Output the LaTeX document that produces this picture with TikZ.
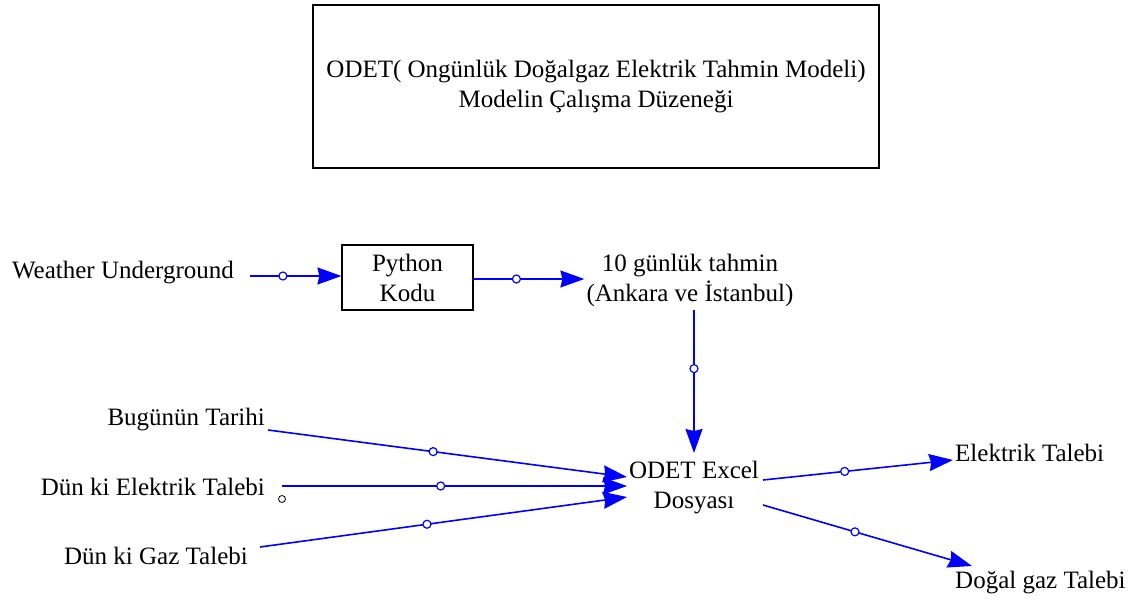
\documentclass[tikz,border=0pt]{standalone}
\usepackage{fontspec}
\setmainfont{Liberation Serif}
\usetikzlibrary{arrows.meta}

\begin{document}
\begin{tikzpicture}[x=1pt,y=-1pt,
    font=\fontsize{25}{30}\selectfont,
    every node/.style={inner sep=2pt},
    flow/.style={draw=blue,line width=1.6pt,-{Stealth[length=24pt,width=17pt,inset=2pt]}},
    valve/.style={circle,draw=blue,fill=white,line width=1.2pt,inner sep=0pt,minimum size=8pt}]
  \useasboundingbox (0,0) rectangle (1128,600);

  % baslik
  \node[draw,line width=1.2pt,minimum width=566pt,minimum height=163pt,align=center] (title) at (596,86.5)
    {ODET( Ongünlük Doğalgaz Elektrik Tahmin Modeli)\\Modelin Çalışma Düzeneği};

  % degiskenler
  \node (wu) at (123,273) {Weather Underground};
  \node[draw,line width=1.2pt,minimum width=131pt,minimum height=65pt,align=center] (python) at (407.5,277.5) {Python\\Kodu};
  \node[align=center] (tahmin) at (690,280) {10 günlük tahmin\\(Ankara ve İstanbul)};
  \node[align=center] (excel) at (694,488) {ODET Excel\\Dosyası};
  \node[anchor=east] (tarih) at (267,420) {Bugünün Tarihi};
  \node[anchor=east] (delek) at (267,487) {Dün ki Elektrik Talebi};
  \node[anchor=east] (dgaz) at (250,556) {Dün ki Gaz Talebi};
  \node[anchor=west] (elek) at (953,453) {Elektrik Talebi};
  \node[anchor=west] (dogal) at (953,583) {Doğal gaz Talebi};
  \node[circle,draw,line width=0.8pt,inner sep=0pt,minimum size=7pt] (dot) at (282,499) {};

  \coordinate (wu-out) at (250,276);
  \coordinate (py-out) at (473,279);
  \coordinate (tahmin-out) at (694,310);
  \coordinate (excel-top) at (694,453);
  \coordinate (tarih-out) at (268,430);
  \coordinate (delek-out) at (282,486);
  \coordinate (dgaz-out) at (260,547);
  \coordinate (excel-in1) at (627,477);
  \coordinate (excel-in2) at (627,486);
  \coordinate (excel-in3) at (627,497);
  \coordinate (excel-out1) at (763,480);
  \coordinate (excel-out2) at (763,505);
  \coordinate (elek-in) at (953,460);
  \coordinate (dogal-in) at (972,566);

  % baglantilar
  \draw[flow] (wu-out) -- node[valve,pos=.36]{} (python.west |- wu-out);
  \draw[flow] (py-out) -- node[valve,pos=.39]{} (tahmin.west |- py-out);
  \draw[flow] (tahmin-out) -- node[valve,pos=.41]{} (excel-top);
  \draw[flow] (tarih-out) -- node[valve,pos=.46]{} (excel-in1);
  \draw[flow] (delek-out) -- node[valve,pos=.46]{} (excel-in2);
  \draw[flow] (dgaz-out) -- node[valve,pos=.455]{} (excel-in3);
  \draw[flow] (excel-out1) -- node[valve,pos=.43]{} (elek-in);
  \draw[flow] (excel-out2) -- node[valve,pos=.44]{} (dogal-in);
\end{tikzpicture}
\end{document}
